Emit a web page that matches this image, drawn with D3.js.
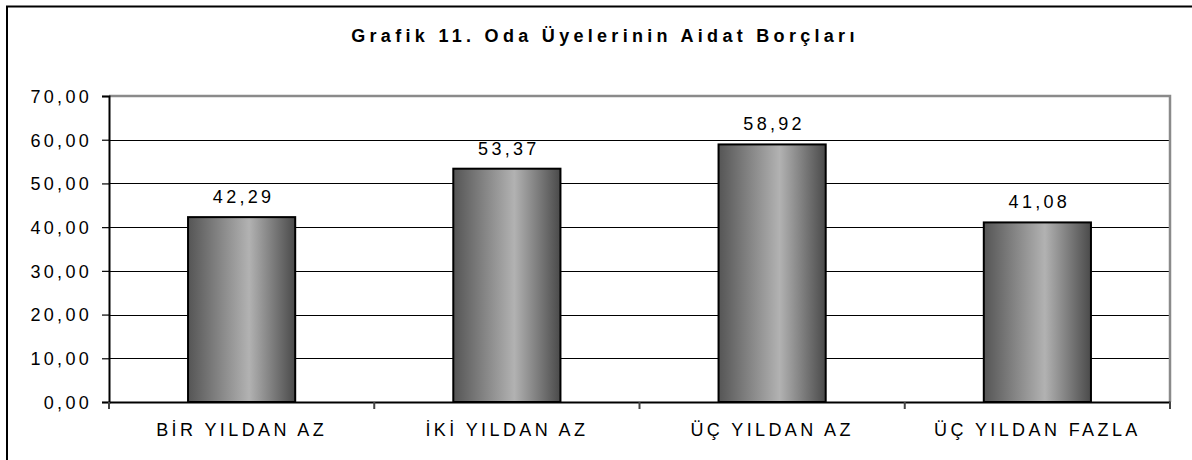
<!DOCTYPE html>
<html>
<head>
<meta charset="utf-8">
<script src="https://cdn.jsdelivr.net/npm/d3@7"></script>
<style>
  html, body { margin: 0; padding: 0; background: #fff; }
  svg { display: block; }
  text { font-family: "Liberation Sans", Arial, sans-serif; fill: #000; }
</style>
</head>
<body>
<svg id="chart" width="1192" height="460"></svg>
<script>
const title = "Grafik 11. Oda Üyelerinin Aidat Borçları";
const categories = ["BİR YILDAN AZ", "İKİ YILDAN AZ", "ÜÇ YILDAN AZ", "ÜÇ YILDAN FAZLA"];
const values = [42.29, 53.37, 58.92, 41.08];
const yTicks = [0, 10, 20, 30, 40, 50, 60, 70];

const svg = d3.select("#chart");
const plot = { left: 109, right: 1170, top: 96, bottom: 402 };

// outer chart border (extends beyond right/bottom edge)
svg.append("rect")
  .attr("x", 7).attr("y", 6.5).attr("width", 1200).attr("height", 470)
  .attr("fill", "#fff").attr("stroke", "#000").attr("stroke-width", 2);

const defs = svg.append("defs");
const grad = defs.append("linearGradient").attr("id", "barGrad")
  .attr("x1", "0%").attr("x2", "100%").attr("y1", "0%").attr("y2", "0%");
grad.append("stop").attr("offset", "0%").attr("stop-color", "#555");
grad.append("stop").attr("offset", "57%").attr("stop-color", "#b2b2b2");
grad.append("stop").attr("offset", "100%").attr("stop-color", "#4a4a4a");

const y = d3.scaleLinear().domain([0, 70]).range([plot.bottom, plot.top]);
const x = d3.scaleBand().domain(categories).range([plot.left, plot.right])
  .paddingInner(0.596).paddingOuter(0.298);

const fmt = v => d3.format(".2f")(v).replace(".", ",");

// gridlines
svg.append("g").selectAll("line")
  .data(yTicks.filter(t => t > 0 && t < 70))
  .join("line")
  .attr("x1", plot.left).attr("x2", plot.right)
  .attr("y1", d => Math.round(y(d)) + 0.5).attr("y2", d => Math.round(y(d)) + 0.5)
  .attr("stroke", "#000").attr("stroke-width", 1);

// plot frame top/right (gray)
svg.append("path")
  .attr("d", `M${plot.left},${plot.top} H${plot.right} V${plot.bottom}`)
  .attr("fill", "none").attr("stroke", "#8a8a8a").attr("stroke-width", 2.5);

// bars
svg.append("g").selectAll("rect")
  .data(values)
  .join("rect")
  .attr("x", (d, i) => x(categories[i]))
  .attr("y", d => y(d))
  .attr("width", x.bandwidth())
  .attr("height", d => y(0) - y(d))
  .attr("fill", "url(#barGrad)")
  .attr("stroke", "#000").attr("stroke-width", 2);

// value labels
svg.append("g").selectAll("text")
  .data(values)
  .join("text")
  .attr("x", (d, i) => x(categories[i]) + x.bandwidth() / 2 + 2)
  .attr("y", d => y(d) - 14)
  .attr("text-anchor", "middle")
  .attr("font-size", 18)
  .attr("letter-spacing", "3.3px")
  .text(d => fmt(d));

// y axis
const yAxis = d3.axisLeft(y).tickValues(yTicks).tickSize(7).tickPadding(10)
  .tickFormat(d => fmt(d));
const gy = svg.append("g").attr("transform", `translate(${plot.left},0)`).call(yAxis);
gy.select(".domain").attr("stroke", "#000").attr("stroke-width", 2);
gy.selectAll(".tick line").attr("stroke", "#000").attr("stroke-width", 1.2);
gy.selectAll(".tick text")
  .attr("font-family", "Liberation Sans, Arial, sans-serif")
  .attr("font-size", 18).attr("letter-spacing", "3.3px").attr("fill", "#000")
  .attr("dy", "0.35em");

// x axis
const xAxis = d3.axisBottom(x).tickSize(0).tickPadding(21);
const gx = svg.append("g").attr("transform", `translate(0,${plot.bottom})`).call(xAxis);
gx.select(".domain").attr("stroke", "#000").attr("stroke-width", 2);
gx.selectAll(".tick text")
  .attr("font-family", "Liberation Sans, Arial, sans-serif")
  .attr("font-size", 18).attr("letter-spacing", "3.4px").attr("fill", "#000");
// category separator ticks
const sepPositions = d3.range(categories.length + 1).map(i => plot.left + i * x.step());
svg.append("g").selectAll("line")
  .data(sepPositions)
  .join("line")
  .attr("x1", d => d).attr("x2", d => d)
  .attr("y1", plot.bottom).attr("y2", plot.bottom + 7)
  .attr("stroke", "#444").attr("stroke-width", 2);

// title
svg.append("text")
  .attr("x", 605).attr("y", 42)
  .attr("text-anchor", "middle")
  .attr("font-size", 18).attr("font-weight", "bold")
  .attr("letter-spacing", "4.3px")
  .text(title);
</script>
</body>
</html>
